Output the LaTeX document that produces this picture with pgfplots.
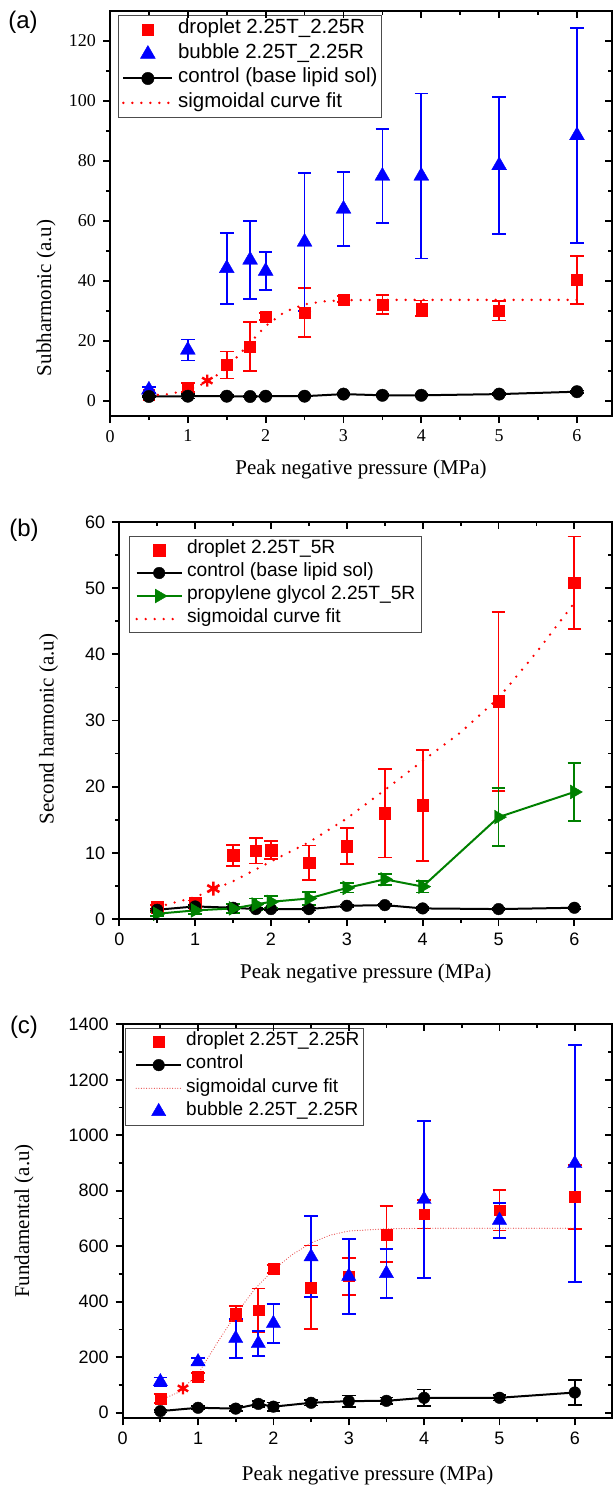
\documentclass[border=0pt]{standalone}
\usepackage{fontspec}
\setmainfont{Liberation Serif}
\newfontfamily\arial{Liberation Sans}
\usepackage{pgfplots}
\pgfplotsset{compat=1.18}
\definecolor{fitc}{RGB}{232,80,80}
\pgfplotsset{
  base/.style={scale only axis, xmin=0, xtick={0,...,6}, minor x tick num=1, minor y tick num=1,
    axis line style={line width=1pt}, major tick length=3.5pt, minor tick length=2pt,
    every tick/.style={black, line width=0.9pt}, /pgf/number format/1000 sep={}},
  mainax/.style={base, tick align=outside, xtick pos=left, ytick pos=left},
  overax/.style={base, tick align=inside, xtick pos=right, ytick pos=right, xticklabels={}, yticklabels={}},
  errb/.style={error bars/.cd, y dir=both, y explicit, error mark=-,
    error bar style={line width=0.9pt, solid}, error mark options={rotate=90, line width=0.9pt, mark size=3.4pt, solid}},
  legA/.style={legend image code/.code={\draw[mark repeat=2,mark phase=2,##1] plot coordinates {(0pt,0pt)(12.25pt,0pt)(24.5pt,0pt)};}},
  legB/.style={legend image code/.code={\draw[mark repeat=2,mark phase=2,##1] plot coordinates {(0pt,0pt)(11.25pt,0pt)(22.5pt,0pt)};}},
  legC/.style={legend image code/.code={\path (-3pt,0pt); \draw[mark repeat=2,mark phase=2,##1] plot coordinates {(0pt,0pt)(11.25pt,0pt)(22.5pt,0pt)};}},
  fitA/.style={red, line width=1.3pt, dash pattern=on 0pt off 4.5pt, line cap=round},
  fitC/.style={fitc, line width=0.6pt, dash pattern=on 0pt off 1.3pt, line cap=round},
}
\begin{document}
\begin{tikzpicture}
\useasboundingbox (0pt,0pt) rectangle (307.5pt,-743pt);
% ---------------- (a)
\begin{axis}[mainax, at={(55pt,-208pt)}, anchor=south west, width=251pt, height=202.5pt,
  xmax=6.45, ymin=-5, ymax=130, ytick={0,20,...,120},
  tick label style={font=\fontsize{9}{10}\selectfont}, /pgf/number format/assume math mode=true,
  legend style={at={(0,1)}, anchor=north west, xshift=3.8pt, yshift=-2pt, draw=black!70, line width=0.5pt,
    font=\arial\fontsize{10.25}{12}\selectfont, inner xsep=2pt, inner ysep=1pt, row sep=0pt,
    nodes={inner sep=0pt, text height=8.2pt, text depth=4pt}, cells={anchor=west},
    /tikz/every odd column/.append style={column sep=2.2pt}}]
\addplot[only marks, mark=square*, red, mark size=2.75pt, mark options={line width=0.2pt}, legA, errb]
 coordinates {(0.5,2.0)+-(0,0.6) (1.0,4.5)+-(0,1.5) (1.5,12.0)+-(0,4.5) (1.8,18.1)+-(0,8.2) (2.0,28.1)+-(0,1.2)
 (2.5,29.5)+-(0,8.1) (3.0,33.9)+-(0,1.0) (3.5,32.2)+-(0,3.2) (4.0,30.9)+-(0,2.6) (5.0,30.0)+-(0,3.2) (6.0,40.3)+-(0,7.9)};
\addlegendentry{droplet 2.25T\_2.25R}
\addplot[only marks, mark=triangle*, blue, mark size=4.3pt, mark options={line width=0.2pt}, legA, errb]
 coordinates {(0.5,3.7)+-(0,1.0) (1.0,17.0)+-(0,3.5) (1.5,44.2)+-(0,11.8) (1.8,47.0)+-(0,12.9) (2.0,43.3)+-(0,6.3)
 (2.5,53.0)+-(0,22.9) (3.0,64.0)+-(0,12.3) (3.5,75.0)+-(0,15.6) (4.0,75.0)+-(0,27.5) (5.0,78.5)+-(0,22.8) (6.0,88.5)+-(0,35.8)};
\addlegendentry{bubble 2.25T\_2.25R}
\addplot[black, line width=1pt, mark=*, mark size=3.1pt, mark options={line width=0.2pt}, legA, errb]
 coordinates {(0.5,1.5)+-(0,0.3) (1.0,1.6)+-(0,0.8) (1.5,1.6)+-(0,0.3) (1.8,1.5)+-(0,0.3) (2.0,1.6)+-(0,0.3)
 (2.5,1.6)+-(0,0.3) (3.0,2.3)+-(0,0.3) (3.5,1.9)+-(0,0.3) (4.0,1.9)+-(0,0.3) (5.0,2.3)+-(0,0.3) (6.0,3.1)+-(0,0.4)};
\addlegendentry{control (base lipid sol)}
\addplot[fitA, legA] coordinates {(0.5,1.8) (0.75,2.3) (1.0,3.6) (1.25,6.3) (1.5,11.0) (1.75,18.0) (2.0,25.0)
 (2.25,29.8) (2.5,32.2) (2.75,33.2) (3.0,33.6) (3.5,33.7) (4.0,33.7) (5.0,33.7) (6.0,33.7)};
\addlegendentry{sigmoidal curve fit}
\addplot[red, only marks, mark=asterisk, mark size=3pt, line width=1.2pt, forget plot] coordinates {(1.25,6.8)};
\end{axis}
\begin{axis}[overax, at={(55pt,-208pt)}, anchor=south west, width=251pt, height=202.5pt,
  xmax=6.45, ymin=-5, ymax=130, ytick={0,20,...,120}]
\end{axis}
\node[font=\fontsize{10.5}{12}\selectfont] at (180.5pt,-234.5pt) {Peak negative pressure (MPa)};
\node[font=\fontsize{10.5}{12}\selectfont, rotate=90] at (23pt,-149pt) {Subharmonic (a.u)};
\node[font=\arial\fontsize{12}{14}\selectfont] at (11.5pt,-11pt) {(a)};
% ---------------- (b)
\begin{axis}[mainax, at={(59.65pt,-459.5pt)}, anchor=south west, width=246.5pt, height=198.5pt,
  xmax=6.5, ymin=0, ymax=60, ytick={0,10,...,60},
  tick label style={font=\arial\fontsize{9}{10}\selectfont}, /pgf/number format/assume math mode=true,
  legend style={at={(0,1)}, anchor=north west, xshift=5pt, yshift=-7pt, draw=black!70, line width=0.5pt,
    font=\arial\fontsize{9.6}{11}\selectfont, inner xsep=2.8pt, inner ysep=1pt, row sep=0pt,
    nodes={inner sep=0pt, text height=7.7pt, text depth=3.8pt}, cells={anchor=west},
    /tikz/every odd column/.append style={column sep=2pt}}]
\addplot[only marks, mark=square*, red, mark size=2.9pt, mark options={line width=0.2pt}, legB, errb]
 coordinates {(0.5,1.8)+-(0,0.3) (1.0,2.4)+-(0,0.4) (1.5,9.6)+-(0,1.6) (1.8,10.3)+-(0,1.9) (2.0,10.4)+-(0,1.35)
 (2.5,8.5)+-(0,2.6) (3.0,11.0)+-(0,2.7) (3.5,16.0)+-(0,6.7) (4.0,17.2)+-(0,8.4) (5.0,32.9)+-(0,13.5) (6.0,50.8)+-(0,7.0)};
\addlegendentry{droplet 2.25T\_5R}
\addplot[black, line width=1pt, mark=*, mark size=2.9pt, mark options={line width=0.2pt}, legB, errb]
 coordinates {(0.5,1.4)+-(0,0.2) (1.0,1.9)+-(0,0.2) (1.5,1.7)+-(0,0.2) (1.8,1.5)+-(0,0.2) (2.0,1.5)+-(0,0.2)
 (2.5,1.5)+-(0,0.2) (3.0,2.0)+-(0,0.2) (3.5,2.1)+-(0,0.2) (4.0,1.6)+-(0,0.2) (5.0,1.5)+-(0,0.2) (6.0,1.7)+-(0,0.2)};
\addlegendentry{control (base lipid sol)}
\addplot[black!50!green, line width=1pt, mark=triangle*, mark size=4pt, mark options={rotate=-90, line width=0.2pt}, legB, errb]
 coordinates {(0.5,0.8)+-(0,0.3) (1.0,1.3)+-(0,0.6) (1.5,1.6)+-(0,0.7) (1.8,2.2)+-(0,0.9) (2.0,2.6)+-(0,0.9)
 (2.5,3.1)+-(0,1.0) (3.0,4.7)+-(0,0.7) (3.5,6.0)+-(0,0.8) (4.0,4.9)+-(0,0.9) (5.0,15.4)+-(0,4.35) (6.0,19.2)+-(0,4.4)};
\addlegendentry{propylene glycol 2.25T\_5R}
\addplot[fitA, legB] coordinates {(0.5,1.8) (1.0,3.3) (1.5,5.7) (2.0,8.7) (2.5,11.6) (3.0,15.2) (3.5,19.5)
 (4.0,23.9) (4.5,28.2) (5.0,33.4) (5.5,40.3) (6.0,47.8)};
\addlegendentry{sigmoidal curve fit}
\addplot[red, only marks, mark=asterisk, mark size=3.5pt, line width=1.3pt, forget plot] coordinates {(1.24,4.6)};
\end{axis}
\begin{axis}[overax, at={(59.65pt,-459.5pt)}, anchor=south west, width=246.5pt, height=198.5pt,
  xmax=6.5, ymin=0, ymax=60, ytick={0,10,...,60}]
\end{axis}
\node[font=\fontsize{10.5}{12}\selectfont] at (182.9pt,-486.5pt) {Peak negative pressure (MPa)};
\node[font=\fontsize{10.5}{12}\selectfont, rotate=90] at (24.25pt,-364.5pt) {Second harmonic (a.u)};
\node[font=\arial\fontsize{12}{14}\selectfont] at (12pt,-265pt) {(b)};
% ---------------- (c)
\begin{axis}[mainax, at={(61.35pt,-709.15pt)}, anchor=south west, width=244.9pt, height=197pt,
  xmax=6.5, ymin=-20, ymax=1400, ytick={0,200,...,1400},
  tick label style={font=\arial\fontsize{9}{10}\selectfont}, /pgf/number format/assume math mode=true,
  legend style={at={(0,1)}, anchor=north west, xshift=1pt, yshift=-1.75pt, draw=black!70, line width=0.5pt,
    font=\arial\fontsize{9.5}{11}\selectfont, inner xsep=2pt, inner ysep=1pt, row sep=0pt,
    nodes={inner sep=0pt, text height=7.7pt, text depth=3.9pt}, cells={anchor=west},
    /tikz/every odd column/.append style={column sep=2pt}}]
\addplot[only marks, mark=square*, red, mark size=2.7pt, mark options={line width=0.2pt}, legC, errb]
 coordinates {(0.5,52)+-(0,17) (1.0,130)+-(0,14) (1.5,358)+-(0,27) (1.8,370)+-(0,78) (2.0,518)+-(0,15)
 (2.5,452)+-(0,151) (3.0,492)+-(0,67) (3.5,643)+-(0,101) (4.0,716)+-(0,52) (5.0,730)+-(0,73) (6.0,778)+-(0,116)};
\addlegendentry{droplet 2.25T\_2.25R}
\addplot[black, line width=1pt, mark=*, mark size=2.9pt, mark options={line width=0.2pt}, legC, errb]
 coordinates {(0.5,6)+-(0,5) (1.0,18)+-(0,5) (1.5,15)+-(0,8) (1.8,32)+-(0,10) (2.0,22)+-(0,15)
 (2.5,36)+-(0,10) (3.0,42)+-(0,20) (3.5,43)+-(0,12) (4.0,54)+-(0,30) (5.0,54)+-(0,10) (6.0,73)+-(0,46)};
\addlegendentry{control}
\addplot[fitC, legC] coordinates {(0.5,45) (0.75,75) (1.0,140) (1.25,250) (1.5,355) (1.75,445) (2.0,515)
 (2.25,570) (2.5,612) (2.75,640) (3.0,655) (3.5,663) (4.0,665) (5.0,665) (6.0,665)};
\addlegendentry{sigmoidal curve fit}
\addplot[only marks, mark=triangle*, blue, mark size=4.1pt, mark options={line width=0.2pt}, legC, errb]
 coordinates {(0.5,112)+-(0,15) (1.0,184)+-(0,12) (1.5,268)+-(0,71) (1.8,250)+-(0,45) (2.0,322)+-(0,71)
 (2.5,562)+-(0,146) (3.0,492)+-(0,135) (3.5,502)+-(0,87) (4.0,769)+-(0,283) (5.0,694)+-(0,63) (6.0,898)+-(0,427)};
\addlegendentry{bubble 2.25T\_2.25R}
\addplot[red, only marks, mark=asterisk, mark size=3pt, line width=1.2pt, forget plot] coordinates {(0.8,88)};
\end{axis}
\begin{axis}[overax, at={(61.35pt,-709.15pt)}, anchor=south west, width=244.9pt, height=197pt,
  xmax=6.5, ymin=-20, ymax=1400, ytick={0,200,...,1400}]
\end{axis}
\node[font=\fontsize{10.5}{12}\selectfont] at (183.8pt,-737.5pt) {Peak negative pressure (MPa)};
\node[font=\fontsize{10.5}{12}\selectfont, rotate=90] at (12pt,-610.5pt) {Fundamental (a.u)};
\node[font=\arial\fontsize{12}{14}\selectfont] at (12pt,-513.5pt) {(c)};
\end{tikzpicture}
\end{document}
